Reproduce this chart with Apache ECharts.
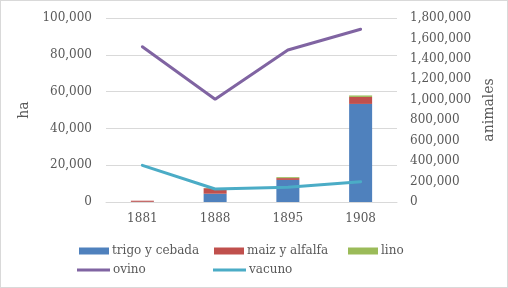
<!DOCTYPE html>
<html>
<head>
<meta charset="utf-8">
<script src="https://cdn.jsdelivr.net/npm/echarts@6/dist/echarts.min.js"></script>
<style>
  html, body { margin: 0; padding: 0; background: #fff; }
  #chart { width: 506px; height: 286px; border: 1px solid #d9d9d9; }
</style>
</head>
<body>
<div id="chart"></div>
<script>
// años censales
var years = ["1881", "1888", "1895", "1908"];
// hectáreas cultivadas
var trigo = [100, 4500, 12000, 53300];
var maiz = [600, 3000, 1000, 3800];
var lino = [0, 100, 500, 800];
// cabezas de ganado
var ovino = [1519000, 1005000, 1487000, 1690000];
var vacuno = [359000, 127000, 144000, 199000];

var FONT = "DejaVu Serif";
var GRAY = "#595959";

var chart = echarts.init(document.getElementById("chart"));

function legendItem(name, left, top, isLine) {
  return {
    data: [name],
    left: left,
    top: top,
    icon: "rect",
    itemWidth: isLine ? 33 : 30,
    itemHeight: isLine ? 3 : 7,
    itemGap: 0,
    padding: 0,
    textStyle: { fontFamily: FONT, fontSize: 12, color: GRAY, padding: [0, 0, 0, -2] },
    selectedMode: false
  };
}

var option = {
  animation: false,
  color: ["#4F81BD", "#C0504D", "#9BBB59", "#8064A2", "#4BACC6"],
  grid: { left: 105, right: 110, top: 17, bottom: 85 },
  legend: [
    legendItem("trigo y cebada", 78, 244, false),
    legendItem("maiz y alfalfa", 213, 244, false),
    legendItem("lino", 347, 244, false),
    legendItem("ovino", 76, 263, true),
    legendItem("vacuno", 212, 263, true)
  ],
  xAxis: {
    type: "category",
    data: years,
    axisLine: { lineStyle: { color: "#d9d9d9", width: 1 } },
    axisTick: { show: false },
    axisLabel: { fontFamily: FONT, fontSize: 12, color: GRAY, margin: 11 }
  },
  yAxis: [
    {
      type: "value",
      min: 0,
      max: 100000,
      interval: 20000,
      name: "ha",
      nameLocation: "middle",
      nameGap: 65,
      nameRotate: 90,
      nameTextStyle: { fontFamily: FONT, fontSize: 14, color: GRAY },
      axisLine: { show: false },
      axisTick: { show: false },
      splitLine: { lineStyle: { color: "#d9d9d9", width: 1 } },
      axisLabel: {
        fontFamily: FONT, fontSize: 12, color: GRAY, margin: 14,
        formatter: function (v) { return v.toLocaleString("en-US"); }
      }
    },
    {
      type: "value",
      min: 0,
      max: 1800000,
      interval: 200000,
      name: "animales",
      nameLocation: "middle",
      nameGap: 84,
      nameRotate: 90,
      nameTextStyle: { fontFamily: FONT, fontSize: 14, color: GRAY },
      axisLine: { show: false },
      axisTick: { show: false },
      splitLine: { show: false },
      axisLabel: {
        fontFamily: FONT, fontSize: 12, color: GRAY, margin: 13,
        formatter: function (v) { return v.toLocaleString("en-US"); }
      }
    }
  ],
  series: [
    { name: "trigo y cebada", type: "bar", stack: "ha", data: trigo, barWidth: 23 },
    { name: "maiz y alfalfa", type: "bar", stack: "ha", data: maiz, barWidth: 23 },
    { name: "lino", type: "bar", stack: "ha", data: lino, barWidth: 23 },
    {
      name: "ovino", type: "line", yAxisIndex: 1, data: ovino,
      symbol: "none", lineStyle: { width: 3, cap: "round" }
    },
    {
      name: "vacuno", type: "line", yAxisIndex: 1, data: vacuno,
      symbol: "none", lineStyle: { width: 3, cap: "round" }
    }
  ]
};

chart.setOption(option);
</script>
</body>
</html>
